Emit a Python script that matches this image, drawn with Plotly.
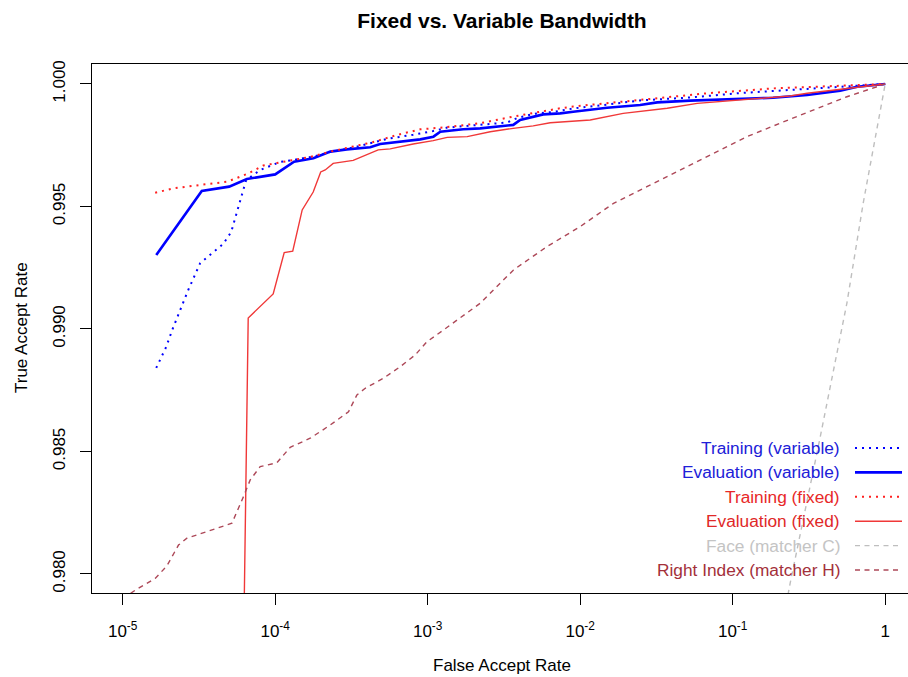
import plotly.graph_objects as go

# ---------------- data ----------------
far_train_var = [1.659e-5, 1.929e-5, 2.112e-5, 2.689e-5, 3.223e-5, 3.863e-5, 4.560e-5, 5.146e-5,
                 5.633e-5, 6.075e-5, 6.452e-5, 7.97e-5, 1.078e-4, 1.312e-4, 1.775e-4, 2.295e-4,
                 2.966e-4, 4.39e-4, 5.425e-4, 8.03e-4, 1.087e-3, 1.342e-3, 1.816e-3, 2.456e-3,
                 3.32e-3, 3.863e-3, 4.918e-3, 6.653e-3, 9.0e-3, 1.503e-2, 2.474e-2, 5.265e-2,
                 0.1120, 0.3080, 0.6552, 1.0]
tar_train_var = [0.98841, 0.98927, 0.98996, 0.99159, 0.99269, 0.99310, 0.99347, 0.99396,
                 0.99482, 0.99559, 0.99608, 0.99649, 0.99682, 0.99690, 0.99704, 0.99722,
                 0.99735, 0.99761, 0.99776, 0.99793, 0.99808, 0.99822, 0.99830, 0.99837,
                 0.99843, 0.99861, 0.99878, 0.99886, 0.99900, 0.99916, 0.99933, 0.99945,
                 0.99963, 0.99980, 0.99994, 1.0]

far_eval_var = [1.66e-5, 3.30e-5, 4.99e-5, 6.52e-5, 1.0e-4, 1.33e-4, 1.78e-4, 2.30e-4, 2.95e-4,
                4.2e-4, 4.88e-4, 6.28e-4, 8.93e-4, 1.09e-3, 1.21e-3, 1.71e-3, 2.21e-3, 3.64e-3,
                4.04e-3, 5.72e-3, 7.39e-3, 9.0e-3, 1.5e-2, 2.47e-2, 3.2e-2, 5.26e-2, 0.112,
                0.184, 0.308, 0.507, 0.655, 1.0]
tar_eval_var = [0.99302, 0.99563, 0.99581, 0.99612, 0.99631, 0.99683, 0.99697, 0.99724, 0.99733,
                0.99742, 0.99755, 0.99764, 0.99774, 0.99785, 0.99805, 0.99815, 0.99819, 0.99833,
                0.99853, 0.99876, 0.99880, 0.99887, 0.99903, 0.99914, 0.99925, 0.99932, 0.99938,
                0.99944, 0.99955, 0.99973, 0.99989, 1.0]

far_train_fix = [1.633e-5, 2.144e-5, 3.223e-5, 4.844e-5, 6.551e-5, 8.345e-5, 1.078e-4, 1.696e-4,
                 2.295e-4, 4.39e-4, 6.31e-4, 8.93e-4, 1.342e-3, 2.210e-3, 3.637e-3, 5.467e-3,
                 7.39e-3, 9.0e-3, 1.914e-2, 4.072e-2, 6.804e-2, 0.1843, 0.5069, 1.0]
tar_train_fix = [0.99556, 0.99574, 0.99588, 0.99601, 0.99633, 0.99667, 0.99680, 0.99702,
                 0.99724, 0.99763, 0.99792, 0.99815, 0.99824, 0.99840, 0.99867, 0.99888,
                 0.99901, 0.99908, 0.99928, 0.99948, 0.99962, 0.99982, 0.99992, 1.0]

far_eval_fix = [5.984e-5, 6.653e-5, 9.70e-5, 1.146e-4, 1.303e-4, 1.503e-4, 1.775e-4, 1.988e-4,
                2.128e-4, 2.400e-4, 3.247e-4, 3.952e-4, 4.735e-4, 5.676e-4, 8.03e-4, 1.087e-3,
                1.342e-3, 1.816e-3, 2.569e-3, 3.637e-3, 4.918e-3, 6.358e-3, 7.39e-3, 1.163e-2,
                1.914e-2, 3.72e-2, 5.852e-2, 0.1120, 0.2382, 0.3080, 0.5069, 1.0]
tar_eval_fix = [0.97000, 0.99045, 0.99143, 0.99312, 0.99318, 0.99486, 0.99559, 0.99641,
                0.99649, 0.99676, 0.99688, 0.99710, 0.99731, 0.99735, 0.99755, 0.99769,
                0.99782, 0.99785, 0.99805, 0.99819, 0.99829, 0.99842, 0.99844, 0.99853,
                0.99880, 0.99901, 0.99921, 0.99935, 0.99951, 0.99962, 0.99978, 1.0]

far_face = [0.1226, 0.2382, 0.3749, 0.5609, 0.7176, 1.0]
tar_face = [0.97000, 0.97963, 0.98559, 0.99106, 0.99514, 1.0]

far_rindex = [1.0e-5, 1.239e-5, 1.633e-5, 1.949e-5, 2.322e-5, 2.636e-5, 3.566e-5, 5.202e-5,
              6.196e-5, 6.856e-5, 7.97e-5, 1.026e-4, 1.254e-4, 1.696e-4, 2.295e-4, 3.025e-4,
              3.434e-4, 3.893e-4, 5.132e-4, 6.602e-4, 8.279e-4, 9.88e-4, 1.269e-3, 2.210e-3,
              3.653e-3, 6.047e-3, 1.0e-2, 1.654e-2, 2.737e-2, 4.525e-2, 7.482e-2, 0.1239,
              0.2049, 0.3387, 0.5609, 1.0]
tar_rindex = [0.97900, 0.97938, 0.97982, 0.98033, 0.98118, 0.98146, 0.98173, 0.98207,
              0.98316, 0.98384, 0.98438, 0.98454, 0.98517, 0.98554, 0.98608, 0.98662,
              0.98731, 0.98758, 0.98799, 0.98846, 0.98894, 0.98948, 0.98996, 0.99105,
              0.99241, 0.99336, 0.99418, 0.99513, 0.99581, 0.99649, 0.99717, 0.99785,
              0.99840, 0.99894, 0.99948, 1.0]

x_tick_vals = [1e-5, 1e-4, 1e-3, 1e-2, 1e-1, 1]
x_tick_text = ["10<sup>-5</sup>", "10<sup>-4</sup>", "10<sup>-3</sup>",
               "10<sup>-2</sup>", "10<sup>-1</sup>", "1"]
y_tick_vals = [0.980, 0.985, 0.990, 0.995, 1.000]
y_tick_text = ["0.980", "0.985", "0.990", "0.995", "1.000"]

legend_labels = ["Training (variable)", "Evaluation (variable)", "Training (fixed)",
                 "Evaluation (fixed)", "Face (matcher C)", "Right Index (matcher H)"]

# ---------------- styles ----------------
FONT = "Liberation Sans, Arial, Helvetica, sans-serif"
DOT = "2px,5px"
DASH = "5px,4.5px"
styles = [
    dict(color="#0000FF", width=2.0, dash=DOT),
    dict(color="#0000FF", width=2.6, dash="solid"),
    dict(color="#FF2020", width=2.0, dash=DOT),
    dict(color="#F03838", width=1.4, dash="solid"),
    dict(color="#BEBEBE", width=1.4, dash=DASH),
    dict(color="#AD4858", width=1.4, dash=DASH),
]
text_colors = ["#2020D8", "#2020D8", "#E82828", "#E02828", "#C4C4C4", "#A3303A"]

series = [(far_train_var, tar_train_var), (far_eval_var, tar_eval_var),
          (far_train_fix, tar_train_fix), (far_eval_fix, tar_eval_fix),
          (far_face, tar_face), (far_rindex, tar_rindex)]

fig = go.Figure()
for (xs, ys), st, name in zip(series, styles, legend_labels):
    fig.add_trace(go.Scatter(x=xs, y=ys, mode="lines", name=name, line=st,
                             showlegend=False))

# ---------------- manual R-style legend (text left, sample right) ----------------
W, H = 908, 677
L, R, T, B = 92, 0, 64, 84
pw, ph = W - L - R, H - T - B

def px2paper_x(px):
    return (px - L) / pw

def px2paper_y(py):
    return (H - B - py) / ph

annotations = []
shapes = []
for i, (lab, st, tc) in enumerate(zip(legend_labels, styles, text_colors)):
    ypix = 448 + 24.4 * i
    annotations.append(dict(x=px2paper_x(842), y=px2paper_y(ypix), xref="paper", yref="paper",
                            text=lab, showarrow=False, xanchor="right", yanchor="middle",
                            font=dict(family=FONT, size=17.3, color=tc)))
    shapes.append(dict(type="line", xref="paper", yref="paper",
                       x0=px2paper_x(855), x1=px2paper_x(902),
                       y0=px2paper_y(ypix), y1=px2paper_y(ypix),
                       line=st))

# axis titles
annotations.append(dict(x=px2paper_x(502), y=px2paper_y(665), xref="paper", yref="paper",
                        text="False Accept Rate", showarrow=False, xanchor="center",
                        yanchor="middle", font=dict(family=FONT, size=17, color="black")))
annotations.append(dict(x=px2paper_x(21), y=px2paper_y(328), xref="paper", yref="paper",
                        text="True Accept Rate", showarrow=False, xanchor="center",
                        yanchor="middle", textangle=-90,
                        font=dict(family=FONT, size=17, color="black")))

fig.update_layout(
    width=W, height=H,
    margin=dict(l=L, r=R, t=T, b=B, autoexpand=False),
    paper_bgcolor="white", plot_bgcolor="white",
    font=dict(family=FONT, size=17, color="black"),
    title=dict(text="<b>Fixed vs. Variable Bandwidth</b>", x=px2paper_x(502), xref="paper",
               xanchor="center", y=1 - 21 / H, yanchor="middle",
               font=dict(family=FONT, size=21, color="black")),
    annotations=annotations, shapes=shapes,
    xaxis=dict(type="log", range=[-5.2013, 0.1495], tickmode="array",
               tickvals=x_tick_vals, ticktext=x_tick_text, showgrid=False, zeroline=False,
               showline=True, linecolor="black", linewidth=1, mirror=True,
               ticks="outside", ticklen=11, tickwidth=1, tickcolor="black",
               ticklabelstandoff=12, tickfont=dict(family=FONT, size=17, color="black")),
    yaxis=dict(range=[0.979224, 1.000816], tickmode="array", tickvals=y_tick_vals,
               ticktext=y_tick_text, showgrid=False, zeroline=False,
               showline=True, linecolor="black", linewidth=1, mirror=False,
               ticks="outside", ticklen=11, tickwidth=1, tickcolor="black",
               tickangle=-90, ticklabelstandoff=8,
               tickfont=dict(family=FONT, size=17, color="black")),
)

fig.write_html("out.html")
